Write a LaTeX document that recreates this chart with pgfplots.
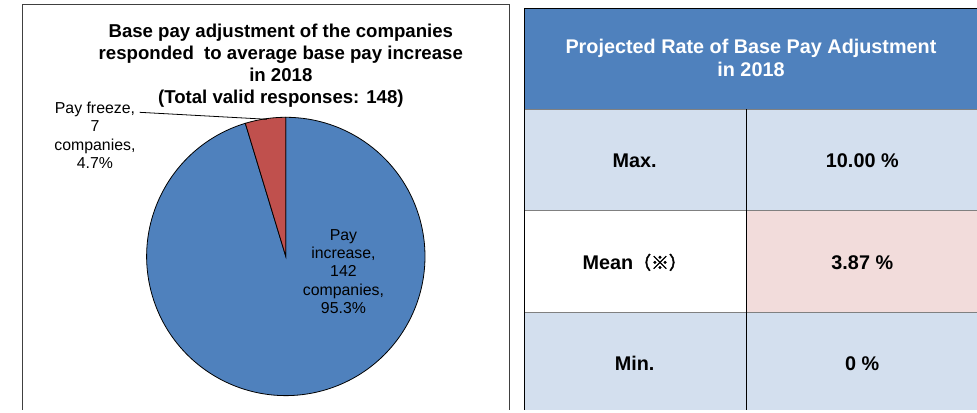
\documentclass[border=0pt]{standalone}
\usepackage{pgfplots}
\usepackage{pgfplotstable}
\pgfplotsset{compat=1.18}
\usepackage{fontspec}
\setmainfont{Liberation Sans}
\newfontfamily\cjk[AutoFakeBold=2.5]{Noto Sans CJK JP}

\definecolor{pieblue}{HTML}{4F81BD}
\definecolor{piered}{HTML}{C0504D}
\definecolor{hdr}{HTML}{4F81BD}
\definecolor{rowblue}{HTML}{D3DFEE}
\definecolor{rowpink}{HTML}{F2DCDB}

% pie data: companies per answer
\pgfplotstableread{
label count
increase 142
freeze 7
}\piedata

\begin{document}
\pgfplotstablegetelem{0}{count}\of\piedata \let\nInc\pgfplotsretval
\pgfplotstablegetelem{1}{count}\of\piedata \let\nFrz\pgfplotsretval
\pgfmathsetmacro\frzang{360*\nFrz/(\nInc+\nFrz)}
\pgfmathsetmacro\splitang{90+\frzang}
\begin{tikzpicture}
\begin{axis}[
    x=1bp, y=1bp,
    xmin=0, xmax=977, ymin=0, ymax=412,
    hide axis, clip=false, scale only axis,
]
% page frame
\path[draw=none] (axis cs:0,0) rectangle (axis cs:977,412);

% left chart box
\draw[line width=0.8bp, black!75] (axis cs:17,0) -- (axis cs:17,408) -- (axis cs:507,408) -- (axis cs:507,0);

% pie slices
\filldraw[fill=pieblue, draw=black, line width=0.8bp]
    (axis cs:282,154) -- ++(\splitang:140bp) arc[start angle=\splitang, end angle=450, radius=140bp] -- cycle;
\filldraw[fill=piered, draw=black, line width=0.8bp]
    (axis cs:282,154) -- ++(90:140bp) arc[start angle=90, end angle=\splitang, radius=140bp] -- cycle;

% title
\node[align=center, inner sep=0, font=\bfseries\fontsize{18.8}{22}\selectfont] at (axis cs:277,346)
    {Base pay adjustment of the companies\\responded~ to average base pay increase\\in 2018\\(Total valid responses: 148)};

% slice labels
\draw[line width=0.8bp] (axis cs:135,299) -- (axis cs:263,292);
\node[align=center, inner sep=0, font=\fontsize{16}{18.5}\selectfont] at (axis cs:90,276)
    {Pay freeze,\\7\\companies,\\4.7\%};
\node[align=center, inner sep=0, font=\fontsize{16}{18.5}\selectfont] at (axis cs:340,139)
    {Pay\\increase,\\142\\companies,\\95.3\%};

% table cells
\fill[hdr] (axis cs:522,404) rectangle (axis cs:977,302);
\fill[rowblue] (axis cs:522,302) rectangle (axis cs:977,200);
\fill[white] (axis cs:522,200) rectangle (axis cs:745,98);
\fill[rowpink] (axis cs:745,200) rectangle (axis cs:977,98);
\fill[rowblue] (axis cs:522,98) rectangle (axis cs:977,0);
\draw[black!50, line width=0.8bp] (axis cs:522,302) -- (axis cs:977,302);
\draw[black!50, line width=0.8bp] (axis cs:522,200) -- (axis cs:977,200);
\draw[black!50, line width=0.8bp] (axis cs:522,98) -- (axis cs:977,98);
\draw[black, line width=0.8bp] (axis cs:745,302) -- (axis cs:745,0);
\draw[black, line width=0.8bp] (axis cs:522,0) -- (axis cs:522,404) -- (axis cs:977,404);

% table text
\node[align=center, inner sep=0, text=white, font=\bfseries\fontsize{20}{23}\selectfont] at (axis cs:750,354)
    {Projected Rate of Base Pay Adjustment\\in 2018};
\begin{scope}[every node/.style={inner sep=0, font=\bfseries\fontsize{20}{23}\selectfont}]
\node at (axis cs:633,250) {Max.};
\node at (axis cs:862,250) {10.00 \%};
\node at (axis cs:633,148) {Mean{\cjk\bfseries\fontsize{18}{23}\selectfont （※）}};
\node at (axis cs:862,148) {3.87 \%};
\node at (axis cs:633,46) {Min.};
\node at (axis cs:862,46) {0 \%};
\end{scope}
\end{axis}
\end{tikzpicture}
\end{document}
